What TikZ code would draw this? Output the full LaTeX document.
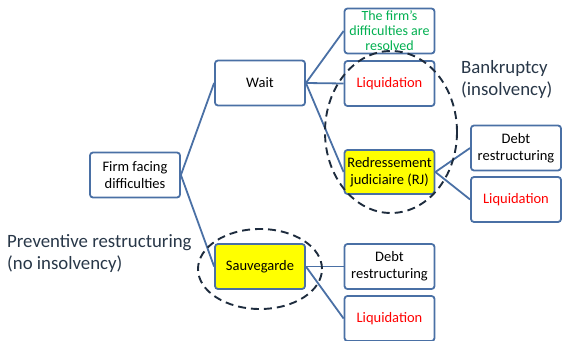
\documentclass[tikz,border=0pt]{standalone}
\usepackage{fontspec}
\setmainfont{Carlito}
\definecolor{boxblue}{RGB}{74,112,165}
\definecolor{ringnavy}{RGB}{30,44,62}
\definecolor{labelgray}{RGB}{40,55,72}
\definecolor{okgreen}{RGB}{0,176,80}
\definecolor{liqred}{RGB}{255,0,0}
\definecolor{hiyellow}{RGB}{255,255,0}
\tikzset{
	box/.style={draw=boxblue, line width=1.8pt, rounded corners=3pt, fill=white,
		minimum width=90pt, minimum height=45pt, inner sep=1pt, align=center,
		font=\fontsize{14.5}{17}\selectfont},
	link/.style={draw=boxblue, line width=1.8pt},
	ring/.style={draw=ringnavy, line width=1.9pt, dash pattern=on 8pt off 5pt},
	note/.style={text=labelgray, align=left, anchor=west, inner sep=2pt,
		font=\fontsize{18.8}{22}\selectfont}
}
\begin{document}
\begin{tikzpicture}[x=1pt,y=-1pt]
	\useasboundingbox (0,0) rectangle (562,340);
		\node[box] at (135,175) (firm) {Firm facing\\difficulties};
		\node[box] at (260,83) (wait) {Wait};
		\node[box, fill=hiyellow] at (260,266.5) (sauv) {Sauvegarde};
		\node[box, text=okgreen, font=\fontsize{14}{15}\selectfont] at (389.5,31) (fixed) {The firm’s\\difficulties are\\resolved};
		\node[box, text=liqred] at (389.5,83.5) (liqA) {Liquidation};
		\node[box, fill=hiyellow, minimum height=44pt] at (389.5,172) (rj) {Redressement\\judiciaire (RJ)};
		\node[box] at (516,148) (debtB) {Debt\\restructuring};
		\node[box, text=liqred] at (516,199.5) (liqB) {Liquidation};
		\node[box] at (389.5,266.5) (debtC) {Debt\\restructuring};
		\node[box, text=liqred] at (389.5,318.5) (liqC) {Liquidation};
		\foreach \a/\b in {firm/wait, firm/sauv, wait/fixed, wait/liqA, wait/rj,
			rj/debtB, rj/liqB, sauv/debtC, sauv/liqC}{
			\draw[link] (\a.east) -- (\b.west);
		}
		\node[note] at (459,79) (bankr) {Bankruptcy\\(insolvency)};
		\node[note] at (5,254) (prev) {Preventive restructuring\\(no insolvency)};
		\draw[ring] (391,132) ellipse [x radius=66pt, y radius=81pt];
		\draw[ring] (260,269) ellipse [x radius=62pt, y radius=40pt];
	\end{tikzpicture}
\end{document}
